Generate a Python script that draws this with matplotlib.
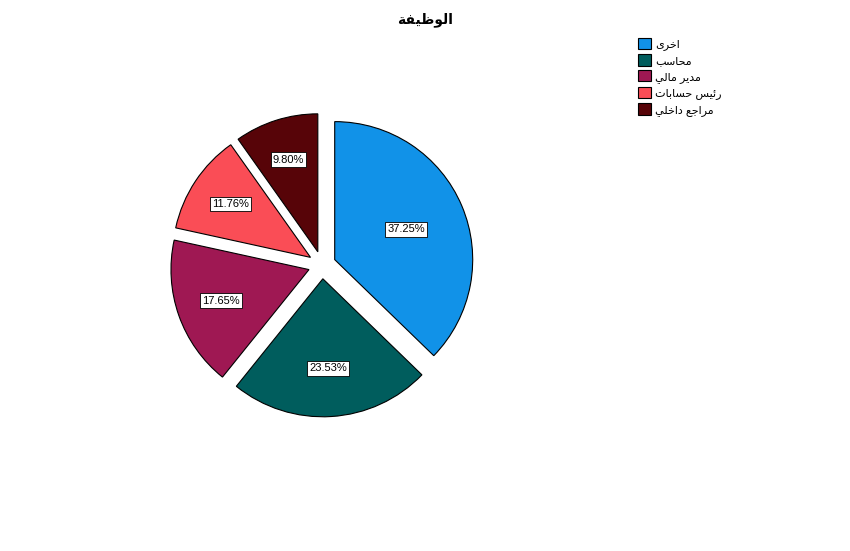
import math
import matplotlib
matplotlib.use('Agg')
import matplotlib.pyplot as plt

# data (counts out of 51)
categories = ['اخرى', 'محاسب', 'مدير مالي', 'رئيس حسابات', 'مراجع داخلي']
counts = [19, 12, 9, 6, 5]
title = 'الوظيفة'
colors = ['#1192e8', '#005d5d', '#9f1853', '#fa4d56', '#570408']

# minimal arabic shaping: isolated, final, initial, medial
FORMS = {
    'ا': ('\uFE8D', '\uFE8E'),
    'ب': ('\uFE8F', '\uFE90', '\uFE91', '\uFE92'),
    'ة': ('\uFE93', '\uFE94'),
    'ت': ('\uFE95', '\uFE96', '\uFE97', '\uFE98'),
    'ج': ('\uFE9D', '\uFE9E', '\uFE9F', '\uFEA0'),
    'ح': ('\uFEA1', '\uFEA2', '\uFEA3', '\uFEA4'),
    'خ': ('\uFEA5', '\uFEA6', '\uFEA7', '\uFEA8'),
    'د': ('\uFEA9', '\uFEAA'),
    'ر': ('\uFEAD', '\uFEAE'),
    'س': ('\uFEB1', '\uFEB2', '\uFEB3', '\uFEB4'),
    'ظ': ('\uFEC5', '\uFEC6', '\uFEC7', '\uFEC8'),
    'ع': ('\uFEC9', '\uFECA', '\uFECB', '\uFECC'),
    'ف': ('\uFED1', '\uFED2', '\uFED3', '\uFED4'),
    'ل': ('\uFEDD', '\uFEDE', '\uFEDF', '\uFEE0'),
    'م': ('\uFEE1', '\uFEE2', '\uFEE3', '\uFEE4'),
    'و': ('\uFEED', '\uFEEE'),
    'ى': ('\uFEEF', '\uFEF0'),
    'ي': ('\uFEF1', '\uFEF2', '\uFEF3', '\uFEF4'),
    'ئ': ('\uFE89', '\uFE8A', '\uFE8B', '\uFE8C'),
}

def shape(s):
    out = []
    for i, ch in enumerate(s):
        if ch not in FORMS:
            out.append(ch)
            continue
        f = FORMS[ch]
        prev = s[i - 1] if i > 0 else ''
        nxt = s[i + 1] if i + 1 < len(s) else ''
        jp = prev in FORMS and len(FORMS[prev]) == 4
        jn = len(f) == 4 and nxt in FORMS
        if jp and jn:
            out.append(f[3])
        elif jp:
            out.append(f[1])
        elif jn:
            out.append(f[2])
        else:
            out.append(f[0])
    return ''.join(reversed(out))

plt.rcParams['font.family'] = ['Liberation Sans', 'DejaVu Sans']

W, H = 850, 551
R = 138.0
cx, cy = 322, 265  # pie centre in pixels (from top-left)

fig = plt.figure(figsize=(W / 100, H / 100), dpi=100)
ax = fig.add_axes([0, 0, 1, 1])

wedges, texts, autotexts = ax.pie(
    counts, colors=colors, startangle=90, counterclock=False,
    explode=[0.1] * len(counts),
    autopct=lambda p: '%.2f%%' % p,
    wedgeprops=dict(edgecolor='black', linewidth=0.8),
    textprops=dict(fontsize=8, color='black'))

# pie() resets the limits, so set them afterwards
ax.set_xlim(-cx / R, (W - cx) / R)
ax.set_ylim(-(H - cy) / R, cy / R)
ax.set_aspect('equal')
ax.axis('off')

# put labels near slice centroid
for w, t in zip(wedges, autotexts):
    th = math.radians(w.theta2 - w.theta1)
    tm = math.radians((w.theta1 + w.theta2) / 2)
    d = 4 * math.sin(th / 2) / (3 * th) * w.r * 1.07
    x0, y0 = w.center
    t.set_position((x0 + d * math.cos(tm), y0 + d * math.sin(tm)))
    t.set_bbox(dict(boxstyle='square,pad=0.2', facecolor='white',
                    edgecolor='black', linewidth=0.6))

fig.text(0.5, 1 - 20 / H, shape(title), ha='center', va='center',
         fontsize=10, fontweight='bold')

fig.legend(wedges, [shape(c) for c in categories], loc='upper left',
           bbox_to_anchor=(630 / W, 1 - 30 / H), frameon=False,
           fontsize=8, handlelength=1.2, handleheight=1.2,
           handletextpad=0.35, labelspacing=0.38, borderpad=0.2)

fig.savefig('out.png', dpi=100)
